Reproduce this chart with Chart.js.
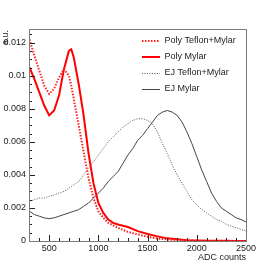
<!DOCTYPE html>
<html>
<head>
<meta charset="utf-8">
<script src="https://cdn.jsdelivr.net/npm/chart.js@4/dist/chart.umd.min.js"></script>
<style>
html,body{margin:0;padding:0;background:#fff;}
canvas{display:block;}
</style>
</head>
<body>
<canvas id="c" width="276" height="271"></canvas>
<script>
// ---- data ----
const adcPoly = [300,350,400,450,500,550,600,650,700,725,750,800,850,900,950,1000,1050,1100,1150,1200,1300,1400,1500,1600,1700,1800,1900,2000,2100,2200,2300,2400,2500];
const polyTeflonMylar = [0.0122,0.0112,0.0103,0.0094,0.0089,0.0092,0.0099,0.0104,0.0100,0.0094,0.0086,0.0070,0.0054,0.0038,0.0026,0.0018,0.0014,0.0011,0.00095,0.0008,0.00055,0.0004,0.00025,0.00015,0.0001,0.00005,0.00003,0.00002,0.00001,0,0,0,0];
const polyMylar = [0.0105,0.0098,0.0090,0.0082,0.0076,0.0079,0.0088,0.0104,0.0115,0.0116,0.0111,0.0095,0.0076,0.0053,0.0035,0.0023,0.0017,0.0013,0.0011,0.0010,0.00085,0.0006,0.00042,0.00028,0.00016,0.0001,0.00005,0.00003,0.00002,0.00001,0.00001,0,0];

const adcEJ = [300,350,400,450,500,550,600,650,700,750,800,850,900,950,1000,1050,1100,1150,1200,1250,1300,1350,1400,1450,1500,1550,1600,1650,1700,1750,1800,1850,1900,1950,2000,2050,2100,2150,2200,2250,2300,2350,2400,2450,2500];
const ejTeflonMylar = [0.0024,0.0025,0.0026,0.0026,0.0027,0.0028,0.0029,0.0030,0.0032,0.0034,0.0036,0.0040,0.0044,0.0048,0.0052,0.0056,0.0060,0.0063,0.0066,0.0069,0.0071,0.0073,0.0074,0.0074,0.0073,0.0071,0.0066,0.0059,0.0053,0.0046,0.0040,0.0035,0.0030,0.0025,0.0022,0.0019,0.0017,0.0015,0.0013,0.0012,0.0010,0.0009,0.0008,0.0007,0.0006];
const ejMylar = [0.0018,0.0016,0.0015,0.0014,0.00135,0.0014,0.0015,0.0016,0.0017,0.0018,0.0019,0.0021,0.0023,0.0026,0.0029,0.0032,0.0036,0.0039,0.0042,0.0047,0.0052,0.0056,0.0061,0.0064,0.0068,0.0072,0.0076,0.0078,0.0079,0.0078,0.0076,0.0072,0.0066,0.0059,0.0051,0.0043,0.0036,0.0029,0.0024,0.0020,0.0018,0.0016,0.0014,0.0013,0.00115];

const seriesNames = ["Poly Teflon+Mylar","Poly Mylar","EJ Teflon+Mylar","EJ Mylar"];
const xTickValues = [500,1000,1500,2000,2500];
const yTickValues = [0,0.002,0.004,0.006,0.008,0.01,0.012];
const yTickLabels = ["0","0.002","0.004","0.006","0.008","0.01","0.012"];
const xTitle = "ADC counts";
const yTitle = "a.u.";

const pts = (xs, ys) => xs.map((x, i) => ({x: x, y: ys[i]}));

const FONT = "'Liberation Sans', Arial, sans-serif";
const TXT = "#222";

const datasets = [
  {label: seriesNames[0], data: pts(adcPoly, polyTeflonMylar), borderColor: "#ff2020", borderWidth: 2, borderDash: [1.5,1.5]},
  {label: seriesNames[1], data: pts(adcPoly, polyMylar), borderColor: "#ff0000", borderWidth: 2},
  {label: seriesNames[2], data: pts(adcEJ, ejTeflonMylar), borderColor: "#555555", borderWidth: 1, borderDash: [1,1.5]},
  {label: seriesNames[3], data: pts(adcEJ, ejMylar), borderColor: "#444444", borderWidth: 1}
];
datasets.forEach(d => { d.pointRadius = 0; d.tension = 0; d.fill = false; });

const rootStyle = {
  id: "rootStyle",
  afterDraw(chart) {
    const ctx = chart.ctx;
    const a = chart.chartArea;
    const xs = chart.scales.x, ys = chart.scales.y;
    ctx.save();
    ctx.setLineDash([]);
    ctx.lineWidth = 1;
    // ticks (inside)
    ctx.strokeStyle = "#222";
    ctx.beginPath();
    for (let k = 0; k * 0.0005 <= ys.max + 1e-9; k++) {
      const v = k * 0.0005;
      const len = (k % 4 === 0) ? 6 : 3;
      const p = Math.round(ys.getPixelForValue(v)) + 0.5;
      ctx.moveTo(a.left, p);
      ctx.lineTo(a.left + len, p);
    }
    for (let v = 300; v <= 2500; v += 100) {
      const len = (v % 500 === 0) ? 6 : 3;
      const p = Math.round(xs.getPixelForValue(v)) + 0.5;
      ctx.moveTo(p, a.bottom);
      ctx.lineTo(p, a.bottom - len);
    }
    ctx.stroke();
    // frame
    ctx.strokeStyle = "#7a7a7a";
    ctx.strokeRect(Math.round(a.left) + 0.5, Math.round(a.top) + 0.5, Math.round(a.right - a.left), Math.round(a.bottom - a.top));
    // titles
    ctx.fillStyle = TXT;
    ctx.font = "9px " + FONT;
    ctx.textAlign = "right";
    ctx.textBaseline = "middle";
    ctx.fillText(xTitle, a.right, 258);
    ctx.save();
    ctx.translate(6, a.top + 1);
    ctx.rotate(-Math.PI / 2);
    ctx.textAlign = "right";
    ctx.fillText(yTitle, 0, 0);
    ctx.restore();
    // legend
    const ly = [41, 57, 73, 89];
    chart.data.datasets.forEach((d, i) => {
      ctx.save();
      ctx.strokeStyle = d.borderColor;
      ctx.lineWidth = d.borderWidth;
      ctx.setLineDash(d.borderDash || []);
      ctx.beginPath();
      const yy = d.borderWidth === 1 ? ly[i] + 0.5 : ly[i];
      ctx.moveTo(142, yy);
      ctx.lineTo(160, yy);
      ctx.stroke();
      ctx.restore();
      ctx.fillStyle = TXT;
      ctx.font = "9px " + FONT;
      ctx.textAlign = "left";
      ctx.textBaseline = "middle";
      ctx.fillText(d.label, 164.5, ly[i]);
    });
    ctx.restore();
  }
};

new Chart(document.getElementById("c"), {
  type: "line",
  data: {datasets: datasets},
  options: {
    responsive: false,
    animation: false,
    devicePixelRatio: 1,
    layout: {padding: {top: 29, right: 30, left: 0, bottom: 0}},
    plugins: {legend: {display: false}, tooltip: {enabled: false}},
    scales: {
      x: {
        type: "linear", min: 295, max: 2500,
        grid: {display: false, drawTicks: false}, border: {display: false},
        afterBuildTicks: s => { s.ticks = xTickValues.map(v => ({value: v})); },
        afterFit: s => { s.height = 30; },
        ticks: {font: {size: 9, family: FONT}, color: TXT, padding: 2, maxRotation: 0, autoSkip: false,
                callback: v => String(v)}
      },
      y: {
        type: "linear", min: 0, max: 0.01283,
        grid: {display: false, drawTicks: false}, border: {display: false},
        afterBuildTicks: s => { s.ticks = yTickValues.map(v => ({value: v})); },
        afterFit: s => { s.width = 29; },
        ticks: {font: {size: 9, family: FONT}, color: TXT, padding: 3, autoSkip: false,
                callback: (v, i) => yTickLabels[i]}
      }
    }
  },
  plugins: [rootStyle]
});
</script>
</body>
</html>
